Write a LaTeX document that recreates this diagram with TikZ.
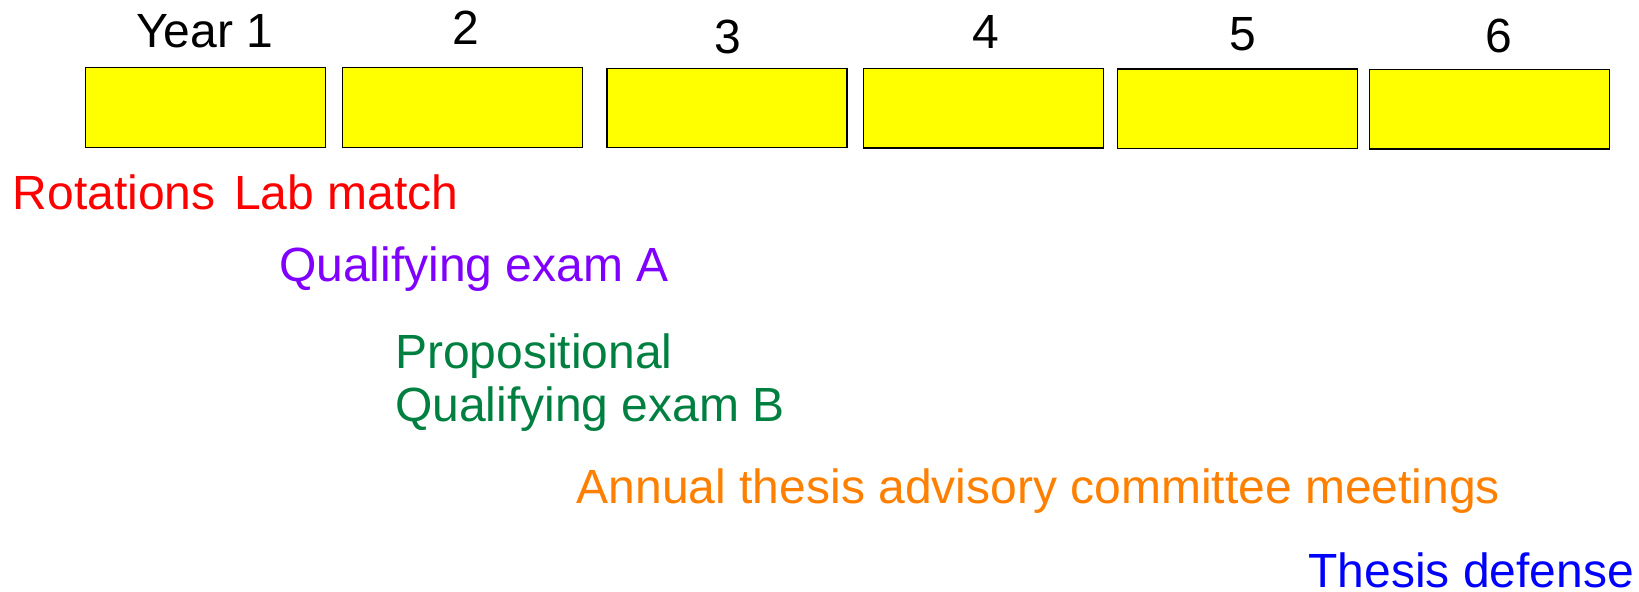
\documentclass[tikz,border=0pt]{standalone}
\usepackage{fontspec}
\setmainfont{Liberation Sans}
\definecolor{purp}{RGB}{128,0,255}
\definecolor{grn}{RGB}{0,128,64}
\definecolor{orng}{RGB}{255,128,0}
\definecolor{blu}{RGB}{0,0,255}
\definecolor{red0}{RGB}{255,0,0}
\definecolor{yel}{RGB}{255,255,0}
\begin{document}
\begin{tikzpicture}[x=0.5pt,y=-0.5pt,
  yearbox/.style={draw=black,fill=yel,line width=0.65pt,rectangle,
    minimum width=120pt,minimum height=39.75pt,inner sep=0pt,outer sep=0pt},
  yearlbl/.style={anchor=base,inner sep=0pt,font=\fontsize{24pt}{26.7pt}\selectfont},
  txt/.style={anchor=base west,inner sep=0pt,align=left,font=\fontsize{24pt}{26.7pt}\selectfont}]
\useasboundingbox (0,0) rectangle (1639,592);
\node[yearbox] (b1) at (205.8,107.5) {};
\node[yearbox] (b2) at (462.8,107.6) {};
\node[yearbox] (b3) at (727,108) {};
\node[yearbox] (b4) at (983.7,108.3) {};
\node[yearbox] (b5) at (1237.8,108.7) {};
\node[yearbox] (b6) at (1489.7,109.2) {};
\node[txt] (y1) at (135.7,47.7) {Year 1};
\node[yearlbl] (y2) at (466,45) {2};
\node[yearlbl] (y3) at (728.3,53.5) {3};
\node[yearlbl] (y4) at (986.2,48.3) {4};
\node[yearlbl] (y5) at (1243.2,50.7) {5};
\node[yearlbl] (y6) at (1498.7,52.8) {6};
\node[txt,text=red0] (rot) at (12.3,209.3) {Rotations};
\node[txt,text=red0] (lab) at (233.8,209.3) {Lab match};
\node[txt,text=purp] (qa) at (278.7,281.7) {Qualifying exam A};
\node[txt,text=grn] (qb) at (394.6,421.7) {Propositional\\Qualifying exam B};
\node[txt,text=orng] (tac) at (576.5,504) {Annual thesis advisory committee meetings};
\node[txt,text=blu] (def) at (1308,587.3) {Thesis defense};
\end{tikzpicture}
\end{document}
